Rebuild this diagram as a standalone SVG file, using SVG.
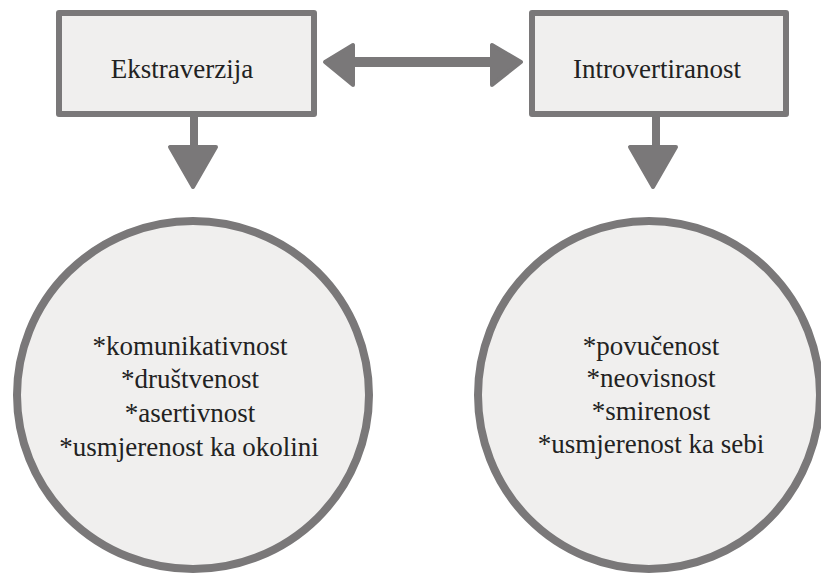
<svg xmlns="http://www.w3.org/2000/svg" width="821" height="574" viewBox="0 0 821 574">
<style>
.box{fill:#f0efee;stroke:#7a7879;stroke-width:6;stroke-linejoin:round}
.circ{fill:#f0efee;stroke:#7a7879;stroke-width:8}
.conn{fill:#7a7879;stroke:#7a7879;stroke-width:4;stroke-linejoin:round}
.t{font-family:"Liberation Serif","DejaVu Serif",serif;font-size:27px;fill:#222;text-anchor:middle}
</style>
<rect width="821" height="574" fill="#ffffff"/>
<g id="connectors">
<rect class="conn" x="192" y="116" width="4" height="30" stroke-width="4"/>
<polygon class="conn" points="170,147 216,147 193,187"/>
<rect class="conn" x="654" y="116" width="4" height="30" stroke-width="4"/>
<polygon class="conn" points="630,147 676,147 653,187"/>
<rect class="conn" x="350" y="59" width="144" height="6"/>
<polygon class="conn" points="325,62 353,45 353,85"/>
<polygon class="conn" points="492,45 492,85 521,62"/>
</g>
<g id="ekstraverzija">
<rect class="box" x="59" y="13" width="255" height="101"/>
<text class="t" x="182" y="78">Ekstraverzija</text>
</g>
<g id="introvertiranost">
<rect class="box" x="532" y="13" width="254" height="101"/>
<text class="t" x="657" y="78">Introvertiranost</text>
</g>
<g id="ekstraverzija-traits">
<ellipse class="circ" cx="193" cy="395" rx="176" ry="174"/>
<text class="t" x="190" y="355">*komunikativnost</text>
<text class="t" x="190" y="388">*društvenost</text>
<text class="t" x="190" y="422">*asertivnost</text>
<text class="t" x="189" y="456">*usmjerenost ka okolini</text>
</g>
<g id="introvertiranost-traits">
<ellipse class="circ" cx="649" cy="395" rx="171" ry="174"/>
<text class="t" x="651" y="355">*povučenost</text>
<text class="t" x="651" y="387">*neovisnost</text>
<text class="t" x="651" y="420">*smirenost</text>
<text class="t" x="651" y="453">*usmjerenost ka sebi</text>
</g>
</svg>
